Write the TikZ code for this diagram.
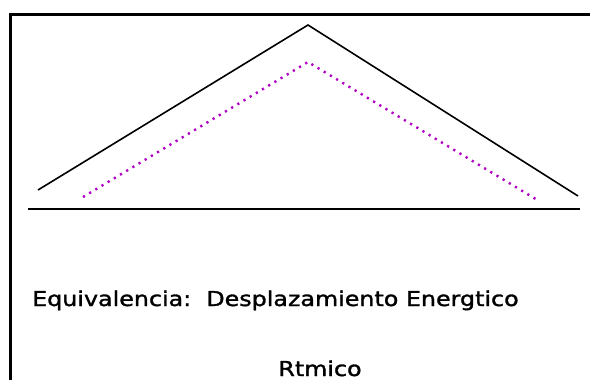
\documentclass[tikz,border=0pt]{standalone}
\usepackage{fontspec}
\setmainfont{DejaVu Sans}
\newfontfamily\plotterfont[FakeStretch=1.16, FakeBold=1.5]{DejaVu Sans}
\definecolor{dotpurple}{RGB}{175,0,195}

\begin{document}
\begin{tikzpicture}[x=1pt, y=-1pt,
        label text/.style={font=\plotterfont\fontsize{20.5}{24}\selectfont, inner sep=0pt}]
        \useasboundingbox (0, 0) rectangle (590, 380);

        % frame
        \draw[line width=3pt] (10, 380) -- (10, 14.7) -- (590, 14.7);

        % roof
        \draw[line width=1.6pt] (38, 190) -- (308, 25) -- (578, 196);

        % dotted roof
        \draw[dotpurple, line width=2.4pt, dash pattern=on 2.2pt off 5pt] (83, 197) -- (308, 62) -- (539, 201);

        % ground
        \draw[line width=2pt] (28, 209) -- (580, 209);

        % texts
        \node[label text, anchor=base west] (equiv) at (32, 306) {Equivalencia:\ \ Desplazamiento Energtico};
        \node[label text, anchor=base] (ritmo) at (320, 376) {Rtmico};
\end{tikzpicture}
\end{document}
